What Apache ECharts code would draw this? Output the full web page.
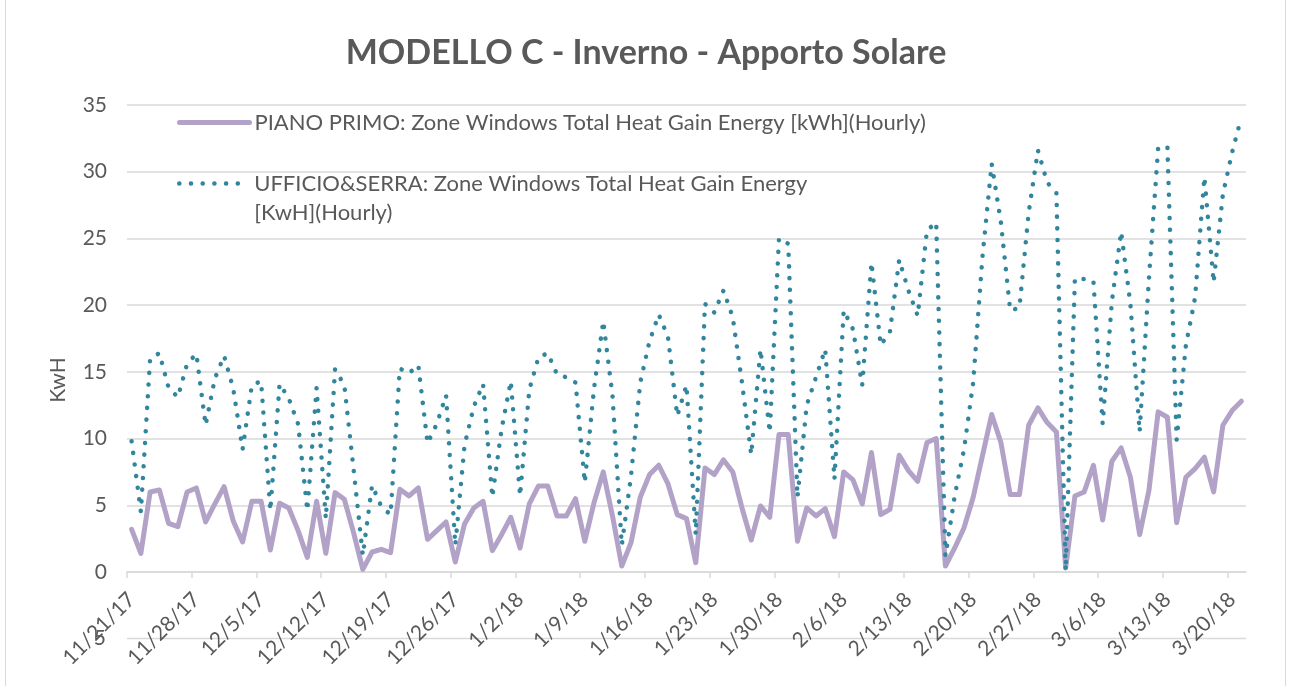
<!DOCTYPE html>
<html>
<head>
<meta charset="utf-8">
<script src="https://cdn.jsdelivr.net/npm/echarts@6/dist/echarts.min.js"></script>
<style>
  html, body { margin: 0; padding: 0; background: #fff; }
  #chart { width: 1292px; height: 686px; }
</style>
</head>
<body>
<div id="chart"></div>
<script>
// one value per day, 11/21/17 -> 3/21/18
const tickLabels = ["11/21/17", "11/28/17", "12/5/17", "12/12/17", "12/19/17", "12/26/17", "1/2/18", "1/9/18", "1/16/18",
  "1/23/18", "1/30/18", "2/6/18", "2/13/18", "2/20/18", "2/27/18", "3/6/18", "3/13/18", "3/20/18"];

const pianoPrimo = [
  3.2, 1.4, 6.0, 6.15, 3.65, 3.4, 6.0, 6.3, 3.75, 5.1, 6.4, 3.8, 2.25, 5.3, 5.3, 1.65, 5.15, 4.8, 3.1, 1.1,
  5.3, 1.4, 5.95, 5.45, 2.95, 0.2, 1.5, 1.7, 1.45, 6.2, 5.7, 6.3, 2.45, 3.1, 3.75, 0.75, 3.6, 4.8, 5.3, 1.6,
  2.8, 4.1, 1.8, 5.1, 6.45, 6.45, 4.2, 4.2, 5.5, 2.3, 5.2, 7.5, 4.2, 0.45, 2.2, 5.6, 7.3, 8.0, 6.6, 4.3,
  4.0, 0.7, 7.8, 7.3, 8.4, 7.5, 4.8, 2.4, 4.95, 4.1, 10.3, 10.3, 2.3, 4.8, 4.2, 4.75, 2.65, 7.5, 6.9, 5.1,
  8.95, 4.3, 4.7, 8.75, 7.6, 6.8, 9.7, 10.0, 0.45, 1.8, 3.3, 5.6, 8.7, 11.8, 9.7, 5.8, 5.8, 11.0, 12.3, 11.2,
  10.5, 0.3, 5.7, 6.0, 8.0, 3.9, 8.3, 9.3, 7.1, 2.8, 6.1, 12.0, 11.6, 3.7, 7.1, 7.75, 8.6, 6.0, 11.0, 12.1, 12.8
];

const ufficioSerra = [
  9.8, 4.5, 16.0, 16.4, 13.8, 13.1, 15.6, 16.35, 11.0, 14.5, 16.2, 13.7, 9.2, 14.0, 14.3, 4.6, 14.1, 13.0, 11.1, 4.6,
  13.8, 4.0, 15.2, 14.0, 7.7, 1.25, 6.5, 4.9, 4.3, 15.25, 14.9, 15.5, 9.65, 11.1, 13.25, 2.0, 9.5, 12.4, 14.1, 5.6,
  10.7, 14.3, 5.7, 13.65, 16.1, 16.4, 14.8, 14.6, 14.2, 6.7, 13.75, 18.8, 13.2, 2.0, 7.2, 14.2, 17.3, 19.3, 17.6, 11.7,
  14.0, 2.8, 20.1, 19.45, 21.1, 19.1, 14.2, 8.8, 16.7, 10.45, 25.0, 24.6, 5.6, 12.5, 14.6, 16.7, 6.95, 19.6, 18.2, 14.0,
  23.2, 17.0, 18.0, 23.4, 21.1, 19.2, 25.6, 26.2, 1.2, 5.7, 9.15, 14.2, 23.6, 30.6, 26.2, 19.6, 19.8, 26.95, 31.6, 29.2,
  28.4, 0.1, 22.0, 21.95, 21.8, 11.1, 20.3, 25.5, 20.1, 10.5, 21.95, 31.75, 31.9, 9.9, 17.0, 20.6, 29.6, 21.7, 28.3, 31.45, 34.1
];

const namePiano = "PIANO PRIMO: Zone Windows Total Heat Gain Energy [kWh](Hourly)";
const nameUfficio = "UFFICIO&SERRA: Zone Windows Total Heat Gain Energy\n[KwH](Hourly)";

const font = "Lato";
const grey = "#595959";
const gridGrey = "#d9d9d9";
const purple = "#b3a2c7";
const teal = "#31859c";

const tickValues = tickLabels.map((t, i) => i * 7);
// Excel puts the date labels a little right of the tick
const labelValues = tickValues.map((v) => v + 0.5);

const legendBase = {
  orient: "vertical",
  left: 177,
  padding: 0,
  itemWidth: 70,
  itemHeight: 14,
  itemStyle: { opacity: 0 },
  lineStyle: { width: "inherit" },
  textStyle: { fontFamily: font, fontSize: 22, color: grey, lineHeight: 29 },
};

const chart = echarts.init(document.getElementById("chart"));
chart.setOption({
  animation: false,
  backgroundColor: "#fff",
  title: {
    text: "MODELLO C - Inverno - Apporto Solare",
    left: "center",
    top: 31,
    textStyle: { fontFamily: font, fontSize: 34, fontWeight: "bold", color: grey },
  },
  grid: { left: 127, right: 46, top: 105, bottom: 114, containLabel: false },
  legend: [
    Object.assign({}, legendBase, { top: 108, data: [namePiano] }),
    Object.assign({}, legendBase, {
      top: 140,
      data: [nameUfficio],
      // blank first line so the icon sits on the first text line
      formatter: (name) => "\n" + name,
    }),
  ],
  graphic: [
    // chart area border
    { type: "rect", z: -10, shape: { x: 5.5, y: -10, width: 1280, height: 720 }, style: { fill: "none", stroke: gridGrey, lineWidth: 1 } },
    // faint gridline of a chart behind this one
    { type: "line", z: -10, shape: { x1: 127, y1: 638.5, x2: 1246, y2: 638.5 }, style: { stroke: gridGrey, lineWidth: 1.5 } },
    { type: "text", z: -10, x: 106, y: 638, style: { text: "5", align: "right", verticalAlign: "middle", fontFamily: font, fontSize: 21, fill: grey } },
    { type: "text", x: 58, y: 380, rotation: Math.PI / 2, style: { text: "KwH", align: "center", verticalAlign: "middle", fontFamily: font, fontSize: 21, fill: grey } },
  ],
  xAxis: {
    type: "value",
    min: 0,
    max: 121,
    splitLine: { show: false },
    axisLine: { show: true, lineStyle: { color: gridGrey, width: 1.5 } },
    axisTick: { show: true, length: 6, customValues: tickValues, lineStyle: { color: gridGrey, width: 1.5 } },
    axisLabel: {
      customValues: labelValues,
      rotate: 45,
      margin: 24,
      fontFamily: font,
      fontSize: 21,
      color: grey,
      formatter: (v) => tickLabels[Math.floor(v / 7)] || "",
    },
  },
  yAxis: {
    type: "value",
    min: 0,
    max: 35,
    interval: 5,
    axisLine: { show: false },
    axisTick: { show: false },
    splitLine: { lineStyle: { color: gridGrey, width: 1.5 } },
    axisLabel: { fontFamily: font, fontSize: 21, color: grey, margin: 20 },
  },
  series: [
    {
      name: namePiano,
      type: "line",
      symbol: "none",
      data: pianoPrimo.map((v, i) => [i + 0.5, v]),
      itemStyle: { color: purple },
      lineStyle: { color: purple, width: 5, join: "round", cap: "round" },
    },
    {
      name: nameUfficio,
      type: "line",
      symbol: "none",
      data: ufficioSerra.map((v, i) => [i + 0.5, v]),
      itemStyle: { color: teal },
      lineStyle: { color: teal, width: 4.5, type: [0.1, 11.6], cap: "round", join: "round" },
    },
  ],
});
</script>
</body>
</html>
